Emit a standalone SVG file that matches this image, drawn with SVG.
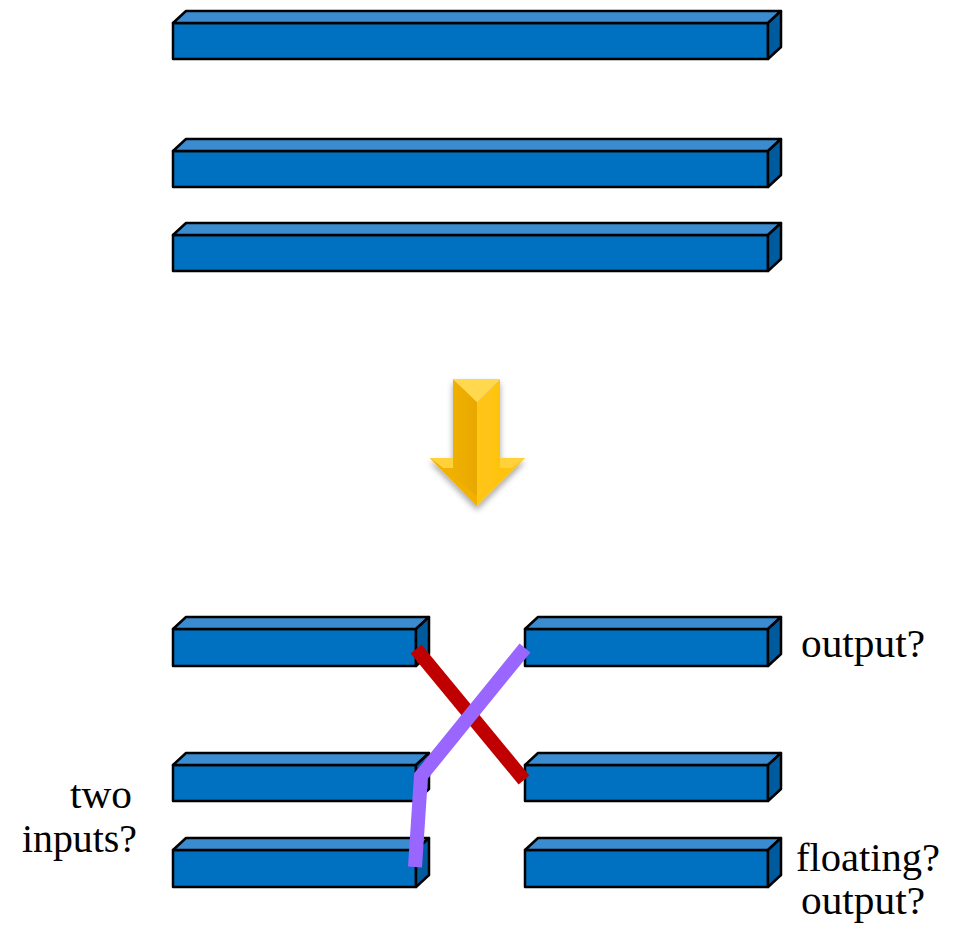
<svg xmlns="http://www.w3.org/2000/svg" width="957" height="927" viewBox="0 0 957 927">
<style>
.front{fill:#0070C0;stroke:#000;stroke-width:2.5;stroke-linejoin:round}
.top{fill:#3A8BD0;stroke:#000;stroke-width:2.5;stroke-linejoin:round}
.side{fill:#005A9E;stroke:#000;stroke-width:2.5;stroke-linejoin:round}
.lbl{font-family:"Liberation Serif","Times New Roman",serif;font-size:39px;fill:#000}
</style>
<defs>
<filter id="sh" x="-30%" y="-30%" width="160%" height="160%">
<feGaussianBlur in="SourceAlpha" stdDeviation="3"/>
<feOffset dx="0" dy="4" result="b"/>
<feComponentTransfer><feFuncA type="linear" slope="0.35"/></feComponentTransfer>
<feMerge><feMergeNode/><feMergeNode in="SourceGraphic"/></feMerge>
</filter>
<linearGradient id="gl" x1="0" y1="0" x2="1" y2="0">
<stop offset="0" stop-color="#F5B800"/><stop offset="1" stop-color="#E9A800"/>
</linearGradient>
<linearGradient id="gr" x1="0" y1="0" x2="1" y2="0">
<stop offset="0" stop-color="#FFC61A"/><stop offset="1" stop-color="#FFC000"/>
</linearGradient>
</defs>
<rect width="957" height="927" fill="#fff"/>

<g id="bar1">
<rect class="front" x="173" y="23" width="595" height="36"/>
<polygon class="top" points="173,23 186,11 781,11 768,23"/>
<polygon class="side" points="768,23 781,11 781,47 768,59"/>
</g>
<g id="bar2">
<rect class="front" x="173" y="151" width="595" height="36"/>
<polygon class="top" points="173,151 186,139 781,139 768,151"/>
<polygon class="side" points="768,151 781,139 781,175 768,187"/>
</g>
<g id="bar3">
<rect class="front" x="173" y="235" width="595" height="36"/>
<polygon class="top" points="173,235 186,223 781,223 768,235"/>
<polygon class="side" points="768,235 781,223 781,259 768,271"/>
</g>

<g id="arrow" filter="url(#sh)">
<polygon fill="url(#gl)" points="453,379 477,402 477,506 430,458 453,458"/>
<polygon fill="url(#gr)" points="500,379 477,402 477,506 525,458 500,458"/>
<polygon fill="#FFD84D" points="453,379 500,379 477,402"/>
<polygon fill="#FFD23A" points="430,458 453,458 453,468 443,468"/>
<polygon fill="#FFD23A" points="525,458 500,458 500,468 512,468"/>
<polygon fill="#F2B000" points="430,458 443,468 477,496 477,506"/>
</g>

<g id="bl1">
<rect class="front" x="173" y="629" width="243" height="37"/>
<polygon class="top" points="173,629 186,617 429,617 416,629"/>
<polygon class="side" points="416,629 429,617 429,654 416,666"/>
</g>
<g id="bl2">
<rect class="front" x="173" y="765" width="243" height="36"/>
<polygon class="top" points="173,765 186,753 429,753 416,765"/>
<polygon class="side" points="416,765 429,753 429,789 416,801"/>
</g>
<g id="bl3">
<rect class="front" x="173" y="850" width="243" height="37"/>
<polygon class="top" points="173,850 186,838 429,838 416,850"/>
<polygon class="side" points="416,850 429,838 429,875 416,887"/>
</g>
<g id="br1">
<rect class="front" x="525" y="629" width="243" height="37"/>
<polygon class="top" points="525,629 538,617 781,617 768,629"/>
<polygon class="side" points="768,629 781,617 781,654 768,666"/>
</g>
<g id="br2">
<rect class="front" x="525" y="765" width="243" height="36"/>
<polygon class="top" points="525,765 538,753 781,753 768,765"/>
<polygon class="side" points="768,765 781,753 781,789 768,801"/>
</g>
<g id="br3">
<rect class="front" x="525" y="850" width="243" height="37"/>
<polygon class="top" points="525,850 538,838 781,838 768,850"/>
<polygon class="side" points="768,850 781,838 781,875 768,887"/>
</g>

<g id="connectors">
<line x1="416" y1="649" x2="524" y2="780" stroke="#C00000" stroke-width="14"/>
<polyline points="525,648 421,776 415,867" fill="none" stroke="#9966FF" stroke-width="14" stroke-linejoin="miter"/>
</g>

<g id="labels">
<text class="lbl" x="70" y="808" textLength="62" lengthAdjust="spacingAndGlyphs">two</text>
<text class="lbl" x="22" y="852" textLength="115" lengthAdjust="spacingAndGlyphs">inputs?</text>
<text class="lbl" x="801" y="657" textLength="124" lengthAdjust="spacingAndGlyphs">output?</text>
<text class="lbl" x="796" y="871" textLength="144" lengthAdjust="spacingAndGlyphs">floating?</text>
<text class="lbl" x="801" y="914" textLength="124" lengthAdjust="spacingAndGlyphs">output?</text>
</g>
</svg>
